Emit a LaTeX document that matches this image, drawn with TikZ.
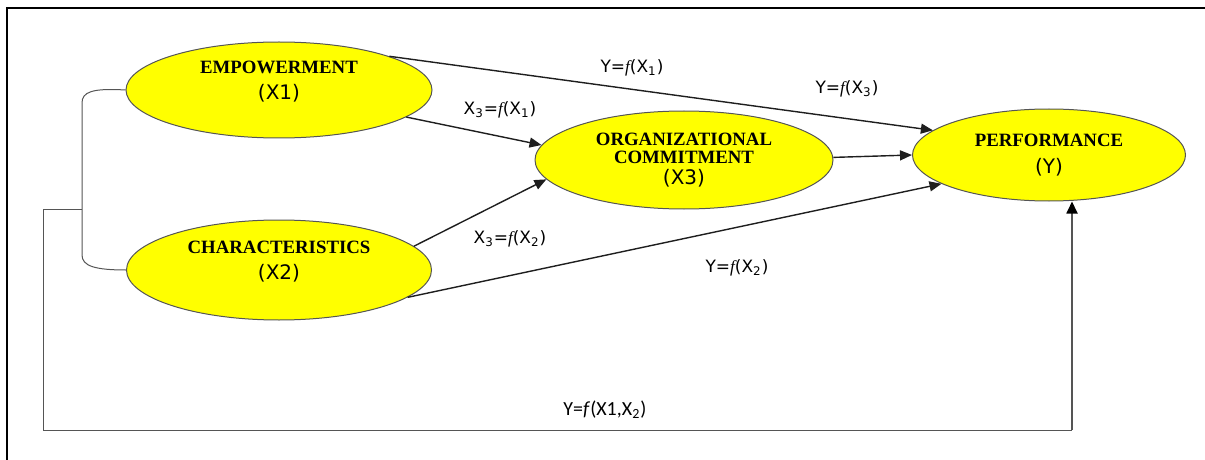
\documentclass[tikz,border=0pt]{standalone}
\usepackage{fontspec}
\setmainfont{Liberation Serif}
\newfontfamily\eqfont{DejaVu Sans}
\newfontfamily\notefont{Carlito}
\usetikzlibrary{arrows.meta,shapes.geometric}
\definecolor{myyellow}{RGB}{255,255,0}
\definecolor{myline}{RGB}{30,30,30}
\definecolor{mygray}{RGB}{85,85,85}
\newcommand{\vid}[1]{{\eqfont\mdseries\fontsize{10}{12}\selectfont(#1)}}
\newcommand{\fn}{{\rmfamily\itshape f}}

\begin{document}
\begin{tikzpicture}[x=0.5pt, y=-0.5pt,
  var/.style={ellipse, draw=mygray, fill=myyellow, line width=0.5pt, inner sep=0pt,
              align=center, font=\fontsize{9.4}{11}\selectfont\bfseries},
  lifted/.style={text depth=9.5pt},
  link/.style={myline, line width=0.7pt, -{Triangle[length=6pt,width=5pt]}},
  eq/.style={font=\eqfont\fontsize{8.5}{10}\selectfont, inner sep=1pt},
  tie/.style={mygray, line width=0.5pt}]
  \useasboundingbox (0,0) rectangle (1205,460);
  % Frame
  \draw[black, line width=0.75pt] (7,460) -- (7,8) -- (1205,8);
  % Variables
  \node[var, lifted, minimum width=153pt, minimum height=48pt] (emp) at (279,90)
    {EMPOWERMENT\\[2pt]\vid{X1}};
  \node[var, lifted, minimum width=152.5pt, minimum height=50pt] (char) at (279,270)
    {CHARACTERISTICS\\[2pt]\vid{X2}};
  \node[var, minimum width=149pt, minimum height=49pt] (org) at (684,160)
    {ORGANIZATIONAL\\[-2pt]COMMITMENT\\[-0.5pt]\vid{X3}};
  \node[var, minimum width=136.5pt, minimum height=46pt] (perf) at (1049,155)
    {PERFORMANCE\\[2.5pt]\vid{Y}};
  % Correlation bracket
  \draw[tie] (emp.west) .. controls (92,88) and (82,92) .. (82,103)
    -- (82,255) .. controls (82,266) and (95,270) .. (char.west);
  % Paths
  \draw[link] (emp.17) -- (perf.168);
  \draw[link] (emp.-12) -- (org.174);
  \draw[link] (char.10) -- (org.188);
  \draw[link] (char.-12) -- (perf.195);
  \draw[link] (org.1) -- (perf.180);
  % Joint path
  \coordinate (jn) at (82,209);
  \coordinate (turn) at (1072,430);
  \draw[tie] (jn) -- (43,209) |- (turn);
  \draw[link, mygray, line width=0.9pt, -{Triangle[length=6pt,width=5.5pt,color=black]}]
    (turn) -- (turn |- perf.south);
  % Equations
  \node[eq] (eqa) at (632,68) {Y=\fn(X\textsubscript{1})};
  \node[eq] (eqb) at (847,89) {Y=\fn(X\textsubscript{3})};
  \node[eq] (eqc) at (500,110) {X\textsubscript{3}=\fn(X\textsubscript{1})};
  \node[eq] (eqd) at (510,239) {X\textsubscript{3}=\fn(X\textsubscript{2})};
  \node[eq] (eqe) at (737,268) {Y=\fn(X\textsubscript{2})};
  \node[font=\notefont\fontsize{10}{12}\selectfont, inner sep=1pt] (eqf) at (605,410)
    {Y=\textit{f}(X1,X\textsubscript{2})};
\end{tikzpicture}
\end{document}
